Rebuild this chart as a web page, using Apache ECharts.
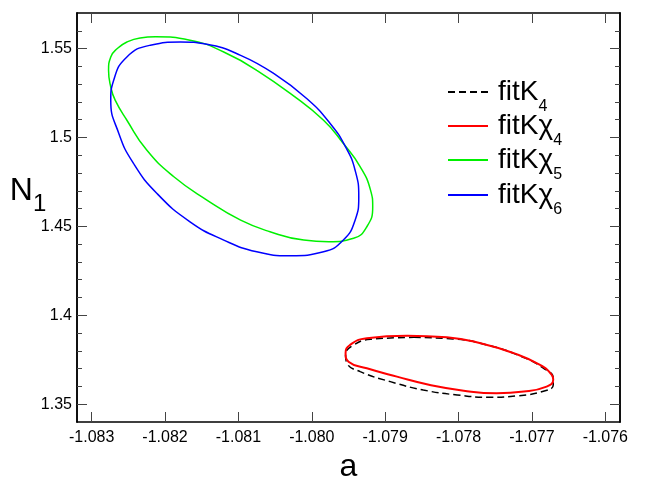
<!DOCTYPE html>
<html><head><meta charset="utf-8">
<script src="https://cdn.jsdelivr.net/npm/echarts@6/dist/echarts.min.js"></script>
<style>html,body{margin:0;padding:0;background:#fff}#c{width:647px;height:477px}</style>
</head><body><div id="c"></div>
<script>
// axis ranges and ticks
const xRange = [-1.0832, -1.0758];
const yRange = [1.34, 1.57];
const xTicks = [-1.083, -1.082, -1.081, -1.080, -1.079, -1.078, -1.077, -1.076];
const yTicks = [1.35, 1.40, 1.45, 1.50, 1.55];
const yMinorTicks = [1.36, 1.37, 1.38, 1.39, 1.41, 1.42, 1.43, 1.44, 1.46, 1.47, 1.48, 1.49, 1.51, 1.52, 1.53, 1.54, 1.56];

// contour points [a, N1]
const fitK4 = [
  [-1.07861, 1.3876], [-1.07807, 1.3867], [-1.07761, 1.3833], [-1.07716, 1.3771], [-1.07684, 1.3702],
  [-1.07671, 1.3646], [-1.07671, 1.3608], [-1.07682, 1.3576], [-1.07720, 1.3547], [-1.07757, 1.3539],
  [-1.07802, 1.3552], [-1.07848, 1.3580], [-1.07893, 1.3627], [-1.07934, 1.3683], [-1.07952, 1.3730],
  [-1.07954, 1.3777], [-1.07945, 1.3828], [-1.07920, 1.3865], [-1.07861, 1.3876]
];
const fitKchi4 = [
  [-1.07870, 1.3885], [-1.07816, 1.3876], [-1.07770, 1.3843], [-1.07725, 1.3787], [-1.07689, 1.3721],
  [-1.07673, 1.3665], [-1.07671, 1.3637], [-1.07680, 1.3599], [-1.07711, 1.3571], [-1.07748, 1.3562],
  [-1.07793, 1.3576], [-1.07839, 1.3608], [-1.07884, 1.3655], [-1.07925, 1.3702], [-1.07950, 1.3739],
  [-1.07954, 1.3787], [-1.07948, 1.3833], [-1.07925, 1.3871], [-1.07870, 1.3885]
];
const fitKchi5 = [
  [-1.08075, 1.5378], [-1.08029, 1.5247], [-1.07984, 1.5097], [-1.07957, 1.4966], [-1.07934, 1.4835],
  [-1.07920, 1.4704], [-1.07917, 1.4610], [-1.07925, 1.4498], [-1.07943, 1.4433], [-1.07977, 1.4414],
  [-1.08011, 1.4423], [-1.08057, 1.4470], [-1.08097, 1.4535], [-1.08143, 1.4648], [-1.08188, 1.4779],
  [-1.08225, 1.4929], [-1.08252, 1.5097], [-1.08268, 1.5210], [-1.08274, 1.5284], [-1.08277, 1.5378],
  [-1.08274, 1.5453], [-1.08265, 1.5500], [-1.08252, 1.5537], [-1.08234, 1.5560], [-1.08213, 1.5566],
  [-1.08166, 1.5547], [-1.08120, 1.5481], [-1.08075, 1.5378]
];
const fitKchi6 = [
  [-1.08052, 1.5360], [-1.08007, 1.5219], [-1.07975, 1.5079], [-1.07954, 1.4947], [-1.07941, 1.4816],
  [-1.07936, 1.4666], [-1.07941, 1.4535], [-1.07957, 1.4423], [-1.07984, 1.4357], [-1.08029, 1.4335],
  [-1.08075, 1.4357], [-1.08120, 1.4423], [-1.08166, 1.4526], [-1.08211, 1.4685], [-1.08243, 1.4854],
  [-1.08263, 1.5023], [-1.08274, 1.5210], [-1.08270, 1.5322], [-1.08252, 1.5453], [-1.08220, 1.5519],
  [-1.08179, 1.5537], [-1.08143, 1.5524], [-1.08097, 1.5462], [-1.08052, 1.5360]
];

const legendNames = {
  'fitK4': '{m|fitK}{s|4}',
  'fitKχ4': '{m|fitKχ}{s|4}',
  'fitKχ5': '{m|fitKχ}{s|5}',
  'fitKχ6': '{m|fitKχ}{s|6}'
};
const FONT = 'Liberation Sans, Arial, sans-serif';

function frameAxis(pos, isX, ticks, len, showLabel, extra) {
  const a = {
    type: 'value', position: pos,
    min: isX ? xRange[0] : yRange[0], max: isX ? xRange[1] : yRange[1],
    axisLine: { show: true, onZero: false, lineStyle: { color: '#000', width: 1.5 } },
    axisTick: { show: true, inside: true, length: len, customValues: ticks, lineStyle: { color: '#444', width: 1 } },
    axisLabel: { show: showLabel, customValues: ticks, fontFamily: FONT, fontSize: 16, color: '#000',
      margin: isX ? 8 : 5,
      formatter: isX ? (v => v.toFixed(3)) : (v => String(parseFloat(v.toFixed(2)))) },
    splitLine: { show: false }
  };
  return Object.assign(a, extra || {});
}

const richLegend = {
  m: { fontFamily: FONT, fontSize: 28, lineHeight: 28, color: '#000', padding: [0, 0, 0, 5] },
  s: { fontFamily: FONT, fontSize: 16, lineHeight: 16, color: '#000', padding: [30, 0, 0, 0] }
};
const legendTops = [69, 103, 137, 172];
const seriesNames = ['fitK4', 'fitKχ4', 'fitKχ5', 'fitKχ6'];

const chart = echarts.init(document.getElementById('c'), null, { renderer: 'canvas' });
chart.setOption({
  animation: false,
  backgroundColor: '#fff',
  grid: { left: 77, right: 27, top: 13, bottom: 55, containLabel: false, outerBoundsMode: 'none' },
  xAxis: [
    frameAxis('bottom', true, xTicks, 10, true, {
      name: 'a', nameLocation: 'middle', nameGap: 29, nameMoveOverlap: false,
      nameTextStyle: { fontFamily: FONT, fontSize: 32, color: '#000' }
    }),
    frameAxis('top', true, xTicks, 10, false)
  ],
  yAxis: [
    frameAxis('left', false, yTicks, 10, true, {
      name: '{n|N}{s|1}', nameLocation: 'middle', nameGap: 49, nameRotate: 0, nameMoveOverlap: false,
      nameTextStyle: {
        align: 'center', verticalAlign: 'middle', padding: [0, 0, 52, 0],
        rich: {
          n: { fontFamily: FONT, fontSize: 32, lineHeight: 32, color: '#000' },
          s: { fontFamily: FONT, fontSize: 24, lineHeight: 24, color: '#000', padding: [26, 0, 0, 0] }
        }
      }
    }),
    frameAxis('left', false, yMinorTicks, 5, false),
    frameAxis('right', false, yTicks, 10, false),
    frameAxis('right', false, yMinorTicks, 5, false)
  ],
  legend: seriesNames.map((nm, i) => ({
    data: [nm], orient: 'vertical', left: 447, top: legendTops[i], padding: 0,
    itemWidth: 40, itemHeight: 14, selectedMode: false,
    itemStyle: { opacity: 0, color: 'rgba(0,0,0,0)', borderWidth: 0 },
    formatter: n => legendNames[n],
    textStyle: { rich: richLegend }
  })),
  series: [
    { name: 'fitK4', type: 'line', data: fitK4, smooth: true, symbol: 'none',
      lineStyle: { color: '#000', width: 1.5, type: [7, 4] }, itemStyle: { color: '#000' }, z: 3 },
    { name: 'fitKχ4', type: 'line', data: fitKchi4, smooth: true, symbol: 'none',
      lineStyle: { color: '#ff0000', width: 2 }, itemStyle: { color: '#ff0000' }, z: 4 },
    { name: 'fitKχ5', type: 'line', data: fitKchi5, smooth: true, symbol: 'none',
      lineStyle: { color: '#00f000', width: 1.5 }, itemStyle: { color: '#00f000' }, z: 3 },
    { name: 'fitKχ6', type: 'line', data: fitKchi6, smooth: true, symbol: 'none',
      lineStyle: { color: '#0000ff', width: 1.5 }, itemStyle: { color: '#0000ff' }, z: 4 }
  ]
});
</script>
</body></html>
